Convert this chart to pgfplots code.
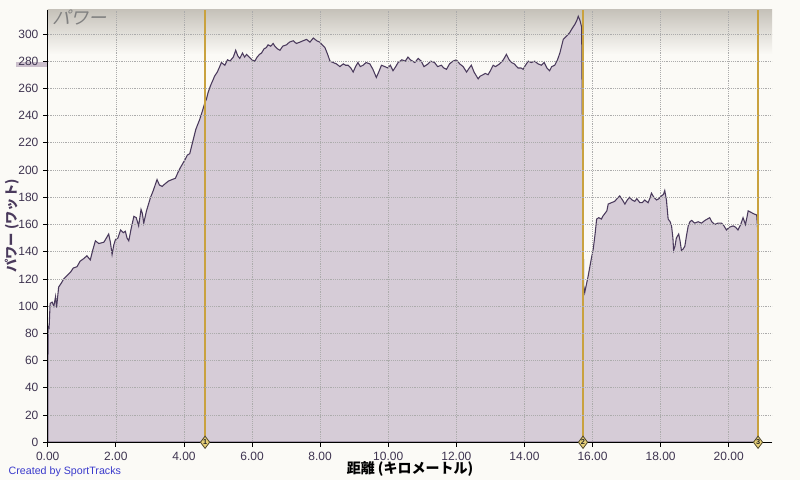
\documentclass[border=0pt]{standalone}
\usepackage{pgfplots}
\pgfplotsset{compat=1.18}
\usepackage{fontspec}
\setmainfont{Liberation Sans}
\newfontfamily\jp{Noto Sans CJK JP}
\newfontfamily\jpit[FakeSlant=0.25]{Noto Sans CJK JP}

\definecolor{bg}{HTML}{FBFAF6}
\definecolor{fillc}{HTML}{D6CCD7}
\definecolor{linec}{HTML}{4A3A5C}
\definecolor{ticktext}{HTML}{3E3450}
\definecolor{gold}{HTML}{C9A23F}
\definecolor{diam}{HTML}{E6CF78}
\definecolor{topgray}{HTML}{C6C2BA}
\definecolor{band}{HTML}{CBBFCC}
\definecolor{stblue}{HTML}{3A3ACC}

\pgfplotstableread{
x y
0.00 20
0.01 85
0.04 84
0.07 102
0.13 103
0.18 100
0.23 107
0.26 99
0.32 114
0.40 117
0.47 120
0.55 122
0.67 125
0.75 128
0.86 129
0.95 133
1.06 135
1.15 137
1.25 134
1.32 141
1.40 148
1.50 146
1.65 147
1.72 150
1.79 153
1.84 147
1.89 138
1.94 145
1.99 149
2.06 150
2.14 156
2.22 154
2.28 155
2.33 150
2.38 148
2.45 157
2.53 166
2.60 165
2.67 159
2.74 171
2.78 168
2.82 161
2.90 170
3.02 180
3.10 185
3.21 193
3.28 189
3.36 188
3.45 190
3.55 192
3.65 193
3.75 194
3.82 198
3.90 202
3.97 205
4.04 208
4.10 211
4.17 212
4.25 220
4.35 230
4.46 237
4.55 244
4.62 250
4.66 252
4.71 257
4.78 262
4.85 266
4.90 269
4.98 272
5.05 276
5.10 279
5.20 277
5.28 281
5.35 280
5.45 283
5.52 288
5.58 284
5.64 282
5.72 286
5.78 283
5.84 285
5.92 283
6.00 281
6.08 280
6.15 283
6.22 285
6.28 286
6.35 289
6.42 290
6.47 292
6.55 291
6.62 293
6.67 291
6.75 289
6.82 288
6.90 291
7.01 292
7.10 294
7.21 295
7.30 293
7.41 294
7.50 295
7.60 296
7.70 294
7.80 297
7.90 295
7.99 294
8.06 292
8.14 290
8.22 285
8.29 280
8.38 279
8.48 278
8.58 276
8.68 278
8.75 277
8.82 277
8.90 275
8.97 272
9.04 276
9.11 279
9.18 276
9.26 277
9.35 279
9.46 278
9.55 274
9.65 268
9.72 272
9.80 277
9.90 276
9.99 275
10.06 277
10.14 273
10.22 276
10.29 279
10.40 281
10.50 280
10.58 283
10.65 281
10.78 279
10.88 282
10.97 280
11.05 276
11.17 278
11.25 280
11.36 279
11.45 276
11.56 277
11.63 275
11.71 274
11.80 278
11.90 280
12.00 281
12.10 278
12.20 276
12.30 272
12.38 275
12.44 277
12.52 272
12.64 267
12.70 269
12.78 270
12.85 271
12.93 270
13.00 273
13.08 277
13.15 276
13.27 278
13.38 281
13.47 285
13.55 281
13.62 279
13.70 278
13.81 275
13.90 275
13.96 274
14.03 277
14.11 280
14.20 279
14.30 280
14.40 278
14.50 277
14.58 279
14.66 275
14.74 273
14.80 276
14.89 277
14.97 281
15.04 286
15.10 292
15.14 296
15.22 298
15.33 301
15.40 304
15.48 307
15.54 310
15.58 313
15.63 310
15.68 305
15.71 200
15.74 115
15.77 110
15.82 116
15.87 122
15.95 133
16.02 142
16.07 152
16.12 164
16.18 165
16.26 164
16.30 166
16.36 168
16.42 170
16.46 175
16.55 176
16.65 177
16.72 179
16.80 181
16.88 178
16.95 175
17.02 178
17.09 180
17.16 178
17.24 177
17.30 179
17.39 176
17.46 176
17.53 178
17.58 177
17.63 176
17.68 179
17.73 183
17.80 180
17.88 178
17.95 179
18.02 181
18.08 182
18.12 185
18.17 178
18.22 164
18.28 162
18.32 159
18.36 150
18.38 141
18.42 144
18.46 150
18.53 153
18.57 148
18.61 141
18.66 142
18.71 144
18.76 152
18.81 159
18.86 162
18.91 163
19.00 161
19.10 162
19.20 161
19.30 163
19.37 164
19.44 165
19.50 162
19.59 160
19.68 161
19.79 161
19.86 159
19.93 156
20.02 158
20.13 159
20.20 158
20.27 156
20.35 160
20.42 165
20.49 160
20.54 166
20.57 170
20.65 169
20.72 168
20.82 167
20.87 149
}\power

\pgfplotsset{frame/.style={
    at={(35.8pt,28.3pt)}, anchor=south west,
    scale only axis, width=543.2pt, height=324.2pt,
    xmin=0, xmax=21.27, ymin=0, ymax=317.6}}

\begin{document}
\begin{tikzpicture}
\fill[bg] (0,0) rectangle (600pt,360pt);
% cursor value band behind the 280 label
\fill[band] (12pt,310pt) rectangle (35pt,313.7pt);
\begin{axis}[
    frame, axis on top,
    axis x line*=bottom, axis y line*=left,
    axis line style={-, black, line width=0.8pt},
    axis background/.style={fill=bg},
    xtick={0,2,...,20}, ytick={0,20,...,300},
    grid=major, grid style={densely dotted, gray!65, line width=0.5pt},
    tick align=outside, major tick length=3.5pt,
    tick style={black, line width=0.6pt},
    /pgf/number format/assume math mode=true,
    xticklabel style={/pgf/number format/.cd, fixed, fixed zerofill, precision=2},
    tick label style={font=\fontsize{9}{10}\selectfont, text=ticktext},
]
\fill[top color=topgray, bottom color=bg, draw=none]
    (axis cs:0,285) rectangle (axis cs:21.27,317.6);
\addplot[draw=linec, line width=0.8pt, fill=fillc] table[x=x, y=y] {\power} \closedcycle;
\addplot[ycomb, gold, line width=1.1pt, mark=none] coordinates {(4.62,317.6) (15.72,317.6) (20.86,317.6)};
\end{axis}
% lap markers on top of the axis line
\begin{axis}[frame, hide axis, clip=false]
\addplot[only marks, mark=diamond*, mark size=4.6pt,
    mark options={fill=diam, draw=black!65!diam, line width=0.6pt},
    point meta=explicit symbolic,
    nodes near coords, every node near coord/.append style={anchor=center, inner sep=0pt, font=\bfseries\fontsize{5.5}{6}\selectfont, text=black!85}]
    coordinates {(4.62,0)[1] (15.72,0)[2] (20.86,0)[3]};
\end{axis}
\node[anchor=west, text=black!50, font=\jpit\fontsize{13.5}{14}\selectfont] at (35.5pt,346.5pt) {パワー};
\node[font=\jp\bfseries\fontsize{10.5}{12}\selectfont] at (307.5pt,8.25pt) {距離 (キロメートル)};
\node[rotate=90, text=linec, font=\jp\bfseries\fontsize{10}{12}\selectfont] at (9pt,190.5pt) {パワー (ワット)};
\node[anchor=west, text=stblue, font=\fontsize{8}{9}\selectfont] at (3pt,6pt) {Created by SportTracks};
\end{tikzpicture}
\end{document}
